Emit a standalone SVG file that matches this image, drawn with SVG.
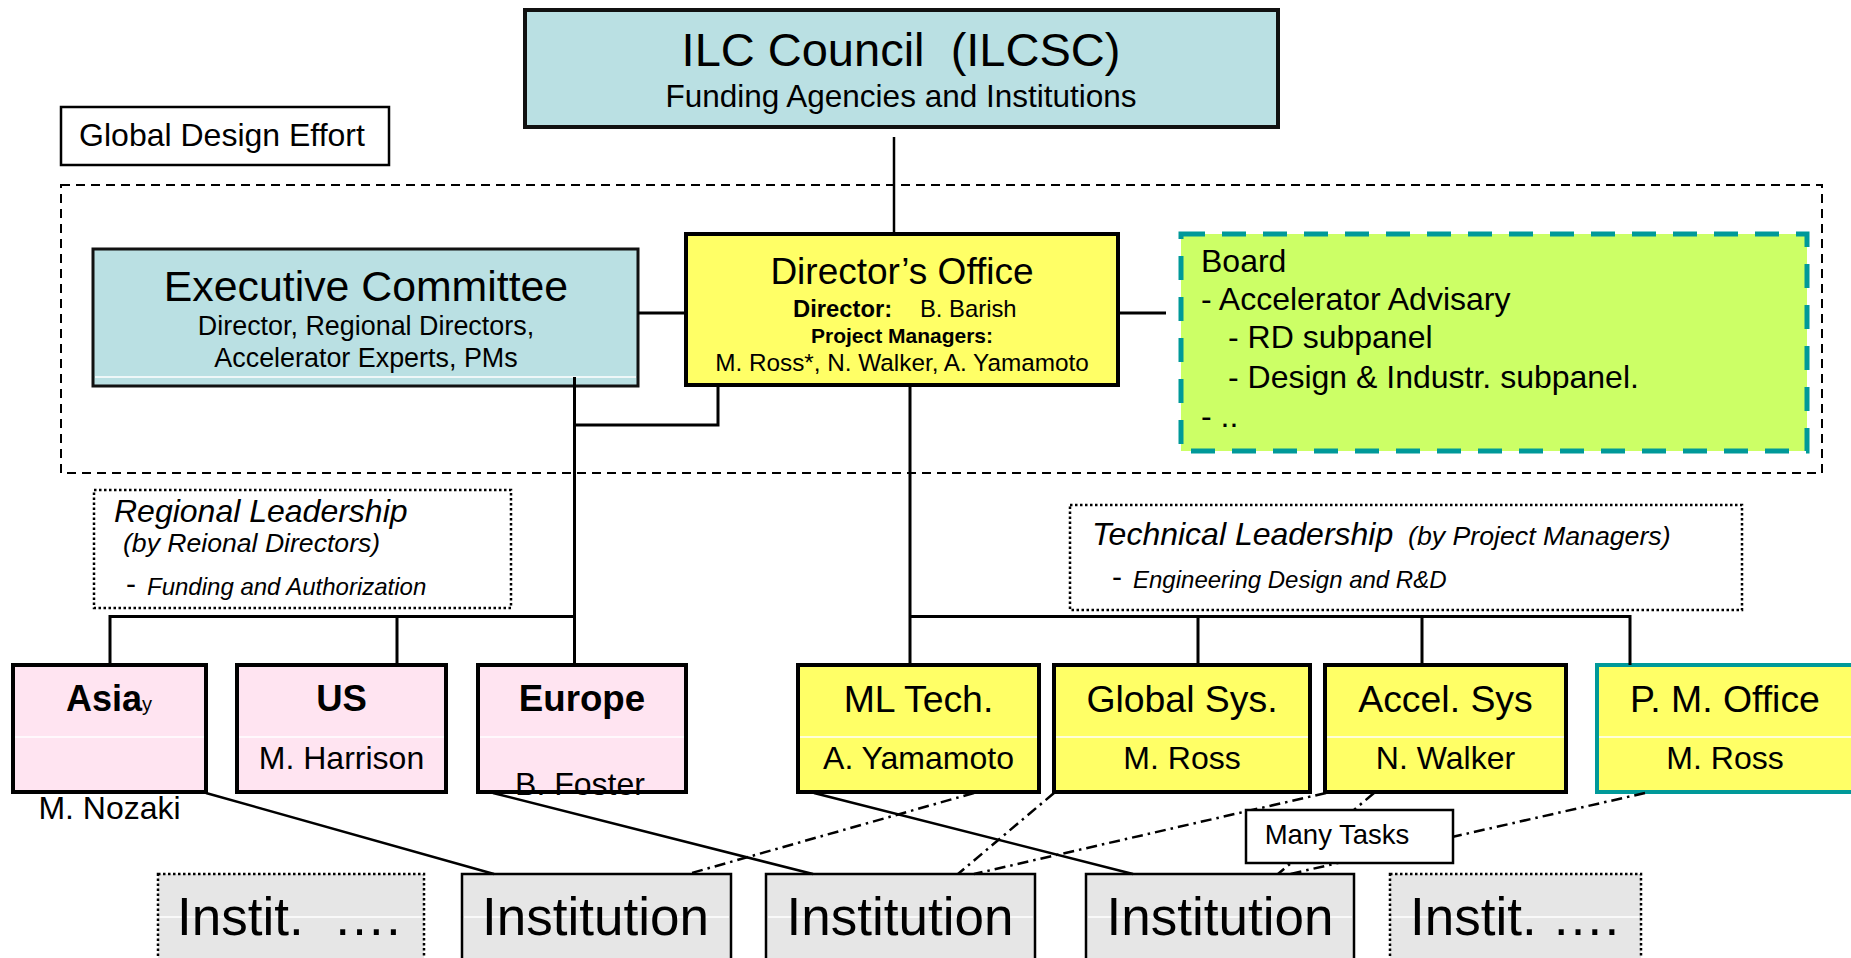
<svg xmlns="http://www.w3.org/2000/svg" width="1851" height="958" viewBox="0 0 1851 958">
<style>
text{font-family:"Liberation Sans",Arial,sans-serif;fill:#000;white-space:pre}
.c{text-anchor:middle}
.i{font-style:italic}
.b{font-weight:bold}
.teal{fill:#BAE0E3;stroke:#111;stroke-width:3}
.yel{fill:#FFFF66;stroke:#000;stroke-width:4}
.pink{fill:#FFE4F1;stroke:#000;stroke-width:4}
.gray{fill:#E6E6E6;stroke:#000;stroke-width:2.5}
.grayd{fill:#E6E6E6;stroke:#000;stroke-width:2.5;stroke-dasharray:2.5 2.5}
.dot{fill:#fff;stroke:#000;stroke-width:2.5;stroke-dasharray:2.5 2.5}
.sep{stroke:#fff;stroke-width:1.5}
.ln{fill:none;stroke:#000;stroke-width:3}
.sl{fill:none;stroke:#000;stroke-width:2.5}
.dd{fill:none;stroke:#000;stroke-width:2.5;stroke-dasharray:11 5 2.5 5}
.t{font-size:37.4px}
.n{font-size:32px}
</style>
<rect width="1851" height="958" fill="#fff"/>

<g id="gde-frame">
<rect x="61" y="185" width="1761" height="288" fill="none" stroke="#000" stroke-width="2" stroke-dasharray="9 6"/>
</g>

<g id="ilc-council">
<rect x="525" y="10" width="753" height="117" class="teal" style="stroke-width:4"/>
<text x="901" y="66" class="c" font-size="47">ILC Council  (ILCSC)</text>
<text x="901" y="107" class="c" font-size="31.5">Funding Agencies and Institutions</text>
</g>

<g id="global-design-effort">
<rect x="61" y="107" width="328" height="58" fill="#fff" stroke="#000" stroke-width="2.5"/>
<text x="222" y="146" class="c" font-size="32">Global Design Effort</text>
</g>

<g id="executive-committee">
<rect x="93" y="249" width="545" height="137" class="teal"/>
<line x1="95" y1="377" x2="636" y2="377" class="sep"/>
<text x="366" y="301" class="c" font-size="42.8">Executive Committee</text>
<text x="366" y="335" class="c" font-size="26.9">Director, Regional Directors,</text>
<text x="366" y="367" class="c" font-size="26.9">Accelerator Experts, PMs</text>
</g>

<g id="directors-office">
<rect x="686" y="234" width="432" height="151" class="yel"/>
<text x="902" y="284" class="c" font-size="37">Director’s Office</text>
<text x="793" y="317" class="b" font-size="23.8">Director:</text>
<text x="920" y="317" font-size="23.8">B. Barish</text>
<text x="902" y="343" class="c b" font-size="21">Project Managers:</text>
<text x="902" y="371" class="c" font-size="24.3">M. Ross*, N. Walker, A. Yamamoto</text>
</g>

<g id="board">
<rect x="1181" y="234" width="626" height="217" fill="#CCFF66" stroke="#009999" stroke-width="5" stroke-dasharray="24 17"/>
<text x="1201" y="272" font-size="32">Board</text>
<text x="1201" y="310" font-size="32">- Accelerator Advisary</text>
<text x="1228" y="348" font-size="32">- RD subpanel</text>
<text x="1228" y="388" font-size="32">- Design &amp; Industr. subpanel.</text>
<text x="1201" y="427" font-size="32">- ..</text>
</g>

<g id="regional-leadership">
<rect x="94" y="490" width="417" height="118" class="dot"/>
<text x="114" y="522" class="i" font-size="32">Regional Leadership</text>
<text x="123" y="552" class="i" font-size="26.6">(by Reional Directors)</text>
<text x="126" y="594" font-size="30">-</text>
<text x="147" y="595" class="i" font-size="24">Funding and Authorization</text>
</g>

<g id="technical-leadership">
<rect x="1070" y="505" width="672" height="105" class="dot"/>
<text x="1092" y="545" class="i" font-size="32">Technical Leadership</text>
<text x="1408" y="545" class="i" font-size="26.7">(by Project Managers)</text>
<text x="1112" y="587" font-size="30">-</text>
<text x="1133" y="588" class="i" font-size="24">Engineering Design and R&amp;D</text>
</g>

<g id="asia">
<rect x="13" y="665" width="193" height="127" class="pink"/>
<line x1="15" y1="737" x2="204" y2="737" class="sep"/>
<text x="66" y="711" class="b" font-size="36">Asia<tspan font-size="20" font-weight="normal">y</tspan></text>
<text x="109.5" y="819" class="c n">M. Nozaki</text>
</g>

<g id="us">
<rect x="237" y="665" width="209" height="127" class="pink"/>
<line x1="239" y1="737" x2="444" y2="737" class="sep"/>
<text x="341.5" y="711" class="c b" font-size="36.5">US</text>
<text x="341.5" y="769" class="c n">M. Harrison</text>
</g>

<g id="europe">
<rect x="478" y="665" width="208" height="127" class="pink"/>
<line x1="480" y1="737" x2="684" y2="737" class="sep"/>
<text x="582" y="711" class="c b" font-size="36.7">Europe</text>
<text x="580" y="795" class="c n">B. Foster</text>
</g>

<g id="ml-tech">
<rect x="798" y="665" width="241" height="127" class="yel"/>
<line x1="800" y1="737" x2="1037" y2="737" class="sep"/>
<text x="918.5" y="712" class="c t">ML Tech.</text>
<text x="918.5" y="769" class="c n">A. Yamamoto</text>
</g>

<g id="global-sys">
<rect x="1054" y="665" width="256" height="127" class="yel"/>
<line x1="1056" y1="737" x2="1308" y2="737" class="sep"/>
<text x="1182" y="712" class="c t">Global Sys.</text>
<text x="1182" y="769" class="c n">M. Ross</text>
</g>

<g id="accel-sys">
<rect x="1325" y="665" width="241" height="127" class="yel"/>
<line x1="1327" y1="737" x2="1564" y2="737" class="sep"/>
<text x="1445.5" y="712" class="c t">Accel. Sys</text>
<text x="1445.5" y="769" class="c n">N. Walker</text>
</g>

<g id="pm-office">
<rect x="1597" y="665" width="262" height="127" fill="#FFFF66" stroke="#009999" stroke-width="4"/>
<line x1="1599" y1="737" x2="1851" y2="737" class="sep"/>
<text x="1725" y="712" class="c t">P. M. Office</text>
<text x="1725" y="769" class="c n">M. Ross</text>
</g>

<g id="instit-left">
<rect x="158" y="874" width="266" height="100" class="grayd"/>
<line x1="160" y1="917" x2="422" y2="917" class="sep"/>
<text x="177" y="935" font-size="53">Instit.  ….</text>
</g>

<g id="institution-1">
<rect x="462" y="874" width="269" height="100" class="gray"/>
<line x1="464" y1="917" x2="729" y2="917" class="sep"/>
<text x="595.5" y="935" class="c" font-size="53">Institution</text>
</g>

<g id="institution-2">
<rect x="766" y="874" width="269" height="100" class="gray"/>
<line x1="768" y1="917" x2="1033" y2="917" class="sep"/>
<text x="900" y="935" class="c" font-size="53">Institution</text>
</g>

<g id="institution-3">
<rect x="1086" y="874" width="268" height="100" class="gray"/>
<line x1="1088" y1="917" x2="1352" y2="917" class="sep"/>
<text x="1220" y="935" class="c" font-size="53">Institution</text>
</g>

<g id="instit-right">
<rect x="1390" y="874" width="251" height="100" class="grayd"/>
<line x1="1392" y1="917" x2="1639" y2="917" class="sep"/>
<text x="1410" y="935" font-size="53">Instit. ….</text>
</g>

<g id="connectors">
<path class="sl" d="M894 137V232"/>
<path class="ln" d="M638 313H686M1118 313H1166"/>
<path class="ln" d="M574.5 377V665M574.5 425H718V387M910 387V665"/>
<path class="ln" d="M110 665V616.5H574.5M397 616.5V665"/>
<path class="ln" d="M910 616.5H1630V665M1198 616.5V665M1422 616.5V665"/>
<path class="sl" d="M206 793L494 874M493 793L813 874M814 793L1133 874"/>
<path class="dd" d="M974 793L688 874M1054 793L958 874M1326 793L974 874M1374 793L1278 874M1645 793L1290 874"/>
</g>

<g id="many-tasks">
<rect x="1246" y="810" width="207" height="53" fill="#fff" stroke="#000" stroke-width="2.5"/>
<text x="1337" y="844" class="c" font-size="27.5">Many Tasks</text>
</g>
</svg>
